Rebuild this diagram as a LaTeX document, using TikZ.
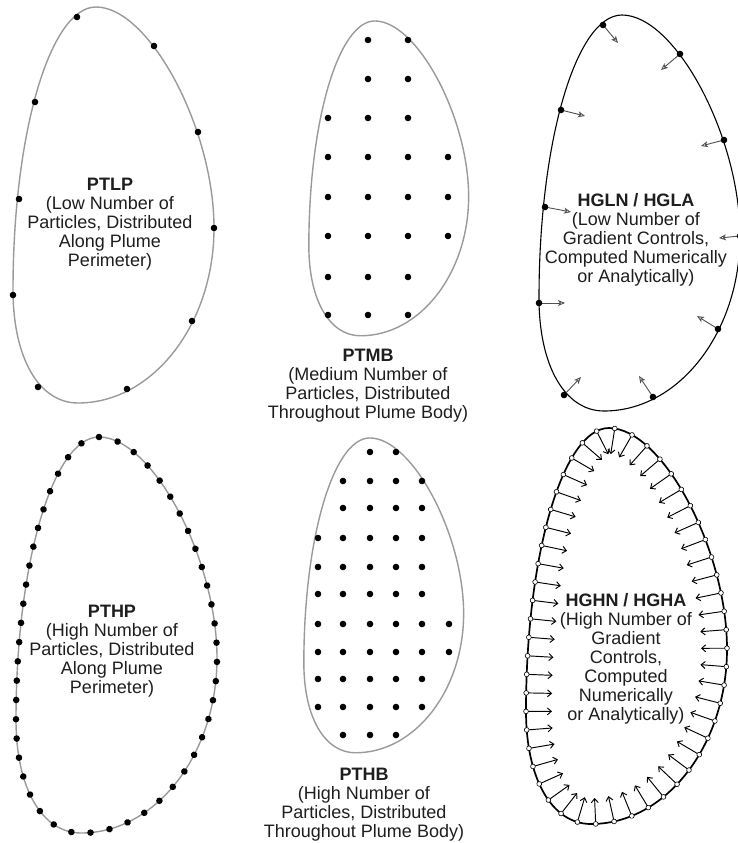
\documentclass[tikz,border=0pt]{standalone}
\usepackage{fontspec}
\setmainfont{Liberation Sans}
\usetikzlibrary{decorations.markings,arrows.meta}
\definecolor{outlinegray}{HTML}{9A9A9A}
\definecolor{arrowgray}{HTML}{505050}
\definecolor{labeltext}{HTML}{1E1E1E}

% Outline of a plume (pixel-like units, y pointing down), drawn clockwise from its top
\newcommand\plumeline{(96,7) .. controls (149,7) and (214,128) .. (214,228)
  .. controls (214,324) and (153,403) .. (78,403)
  .. controls (39,403) and (13,358) .. (13,290)
  .. controls (13,134) and (50,7) .. cycle}

\begin{document}
\begin{tikzpicture}[x=1pt,y=-1pt,
  plumegray/.style={draw=outlinegray,line width=1.4pt},
  plumeblack/.style={draw=black,line width=1.1pt},
  plumeheavy/.style={draw=black,line width=1.7pt},
  particle/.style={fill=black},
  lowarrow/.style={draw=arrowgray,line width=0.9pt,-{Stealth[open,length=7pt,width=6pt,inset=1.8pt]}},
  higharrow/.style={draw=black,line width=0.95pt,-{Straight Barb[length=4pt,width=7pt]}},
  control/.style={draw=black,fill=white,line width=0.6pt},
  caption/.style={align=center,inner sep=0pt,text=labeltext,font=\fontsize{18}{19}\selectfont}]
\useasboundingbox[fill=white] (0,0) rectangle (738,843);

% ---------- PTLP: few particles on the perimeter ----------
\draw[plumegray] \plumeline;
\foreach \x/\y in {77/17,154/46,35/102,198/132,19/199,214/228,13/295,192/321,38/387,127/389}
  \fill[particle] (\x,\y) circle (3.3pt);
\node[caption] (ptlp) at (110,224) {\textbf{PTLP}\\(Low Number of\\Particles, Distributed\\Along Plume\\Perimeter)};

% ---------- PTMB: medium grid of particles in the body ----------
\begin{scope}[shift={(298.5,15.4)},scale=0.795]
  \draw[plumegray] \plumeline;
\end{scope}
\foreach \x/\y in {368/40,408/40,368/79,408/79,
                   328/118,368/118,408/118,
                   328/157,368/157,408/157,448/157,
                   328/197,368/197,408/197,448/197,
                   328/236,368/236,408/236,448/236,
                   328/277,368/277,408/277,
                   328/315,368/315,408/315}
  \fill[particle] (\x,\y) circle (3.3pt);
\node[caption] (ptmb) at (368,386) {\textbf{PTMB}\\(Medium Number of\\Particles, Distributed\\Throughout Plume Body)};

% ---------- HGLN / HGLA: few gradient controls ----------
\begin{scope}[shift={(526,8)}]
  \draw[plumeblack] \plumeline;
  \foreach \x/\y/\u/\v in {77/17/15/18,154/46/-19/16,35/102/24/6,198/132/-23/6,
                           19/199/26/5,214/228/-21/2,13/295/26/0,192/321/-21/-13,
                           38/387/17/-18,127/389/-14/-21}
  {
    \draw[lowarrow] (\x,\y) -- ++(\u,\v);
    \fill[particle] (\x,\y) circle (3.3pt);
  }
\end{scope}
\node[caption] (hgln) at (636,240) {\textbf{HGLN / HGLA}\\(Low Number of\\Gradient Controls,\\Computed Numerically\\or Analytically)};

% ---------- PTHP: many particles on the perimeter ----------
\begin{scope}[shift={(3,430)}]
  \draw[plumegray,postaction={decorate},
        decoration={markings,mark=between positions 0 and 0.99 step 0.02 with {\fill[particle] (0pt,0pt) circle (3.3pt);}}]
    \plumeline;
\end{scope}
\node[caption] (pthp) at (112,651) {\textbf{PTHP}\\(High Number of\\Particles, Distributed\\Along Plume\\Perimeter)};

% ---------- PTHB: dense grid of particles in the body ----------
\begin{scope}[shift={(293.5,432.4)},scale=0.795]
  \draw[plumegray] \plumeline;
\end{scope}
\foreach \y/\cols in {452/{370,396},
                      481/{343,370,396,422},
                      508/{343,370,396,422},
                      538/{318,343,370,396,422},
                      567/{318,343,370,396,422},
                      594/{318,343,370,396,422},
                      624/{318,343,370,396,422,449},
                      652/{318,343,370,396,422,449},
                      679/{318,343,370,396,422},
                      707/{318,343,370,396,422},
                      735/{343,370,396}}
  \foreach \x in \cols
    \fill[particle] (\x,\y) circle (3.3pt);
\node[caption] (pthb) at (364,805) {\textbf{PTHB}\\(High Number of\\Particles, Distributed\\Throughout Plume Body)};

% ---------- HGHN / HGHA: many gradient controls ----------
\begin{scope}[shift={(513,421)}]
  \draw[plumeheavy,postaction={decorate},
        decoration={markings,mark=between positions 0.006 and 0.995 step 0.01923 with {
          \draw[higharrow] (0pt,0pt) -- (0pt,-26pt);
          \draw[control] (0pt,0pt) circle (2.4pt);}}]
    \plumeline;
\end{scope}
\node[caption] (hghn) at (626,659) {\textbf{HGHN / HGHA}\\(High Number of\\Gradient\\Controls,\\Computed\\Numerically\\or Analytically)};
\end{tikzpicture}
\end{document}
